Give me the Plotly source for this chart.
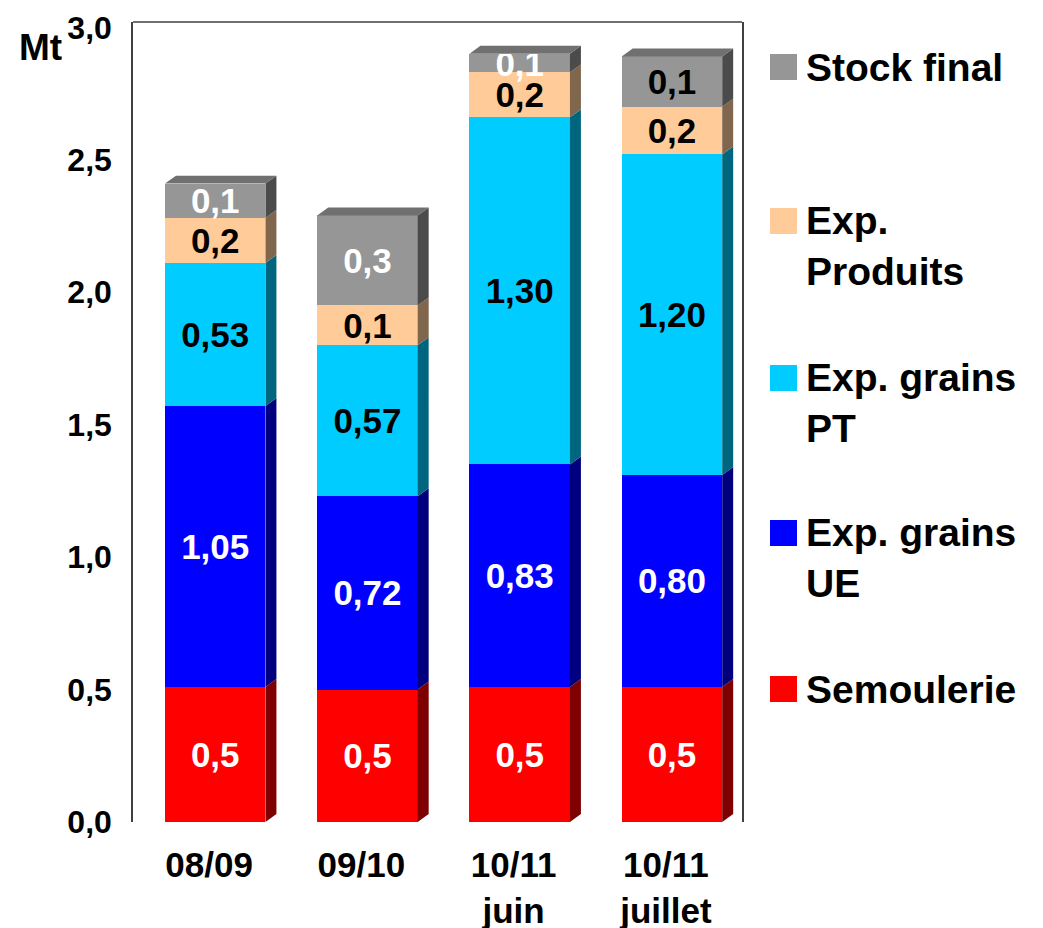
import plotly.graph_objects as go

# ---------------- data ----------------
categories = ["08/09", "09/10", "10/11<br>juin", "10/11<br>juillet"]
series_names = ["Semoulerie", "Exp. grains UE", "Exp. grains PT", "Exp. Produits", "Stock final"]
legend_labels = ["Semoulerie", "Exp. grains<br>UE", "Exp. grains<br>PT", "Exp.<br>Produits", "Stock final"]

semoulerie = [0.51, 0.50, 0.51, 0.51]
exp_grains_ue = [1.06, 0.73, 0.84, 0.80]
exp_grains_pt = [0.54, 0.57, 1.31, 1.21]
exp_produits = [0.17, 0.15, 0.17, 0.18]
stock_final = [0.13, 0.34, 0.07, 0.19]

lab_semoulerie = ["0,5", "0,5", "0,5", "0,5"]
lab_ue = ["1,05", "0,72", "0,83", "0,80"]
lab_pt = ["0,53", "0,57", "1,30", "1,20"]
lab_produits = ["0,2", "0,1", "0,2", "0,2"]
lab_stock = ["0,1", "0,3", "0,1", "0,1"]

y_ticks = [0, 0.5, 1.0, 1.5, 2.0, 2.5, 3.0]

# ---------------- style ----------------
front_colors = ["#FF0000", "#0000FF", "#00CCFF", "#FFCC99", "#969696"]
side_colors = ["#7F0000", "#00007F", "#00667F", "#7F664C", "#4B4B4B"]
top_color = "#707070"
text_colors = [
    ["white"] * 4,
    ["white"] * 4,
    ["black"] * 4,
    ["black"] * 4,
    ["white", "white", "white", "black"],
]
FONT = "Arial, Liberation Sans, sans-serif"

values = [semoulerie, exp_grains_ue, exp_grains_pt, exp_produits, stock_final]
labels = [lab_semoulerie, lab_ue, lab_pt, lab_produits, lab_stock]

xpos = list(range(len(categories)))
BAR_W = 0.66
BAR_OFF = -0.29          # bar drawn from x+BAR_OFF to x+BAR_OFF+BAR_W
DX = 0.072               # depth of the 3D effect (x units)
DY = 0.030               # depth of the 3D effect (y units)

fig = go.Figure()

# front faces
for i, (name, vals) in enumerate(zip(series_names, values)):
    fig.add_trace(go.Bar(
        x=xpos, y=vals, name=name,
        width=BAR_W, offset=BAR_OFF,
        marker=dict(color=front_colors[i], line=dict(width=0)),
        text=labels[i], textposition="inside", insidetextanchor="middle",
        textangle=0,
        textfont=dict(family=FONT, size=35, color=text_colors[i], weight="bold"),
        showlegend=False, hoverinfo="skip",
    ))

# side faces (3D effect) computed from the stacked values
base = [0.0] * len(xpos)
for i, vals in enumerate(values):
    sx, sy = [], []
    for j, x in enumerate(xpos):
        xr = x + BAR_OFF + BAR_W
        b = base[j]
        t = base[j] + vals[j]
        sx += [xr, xr + DX, xr + DX, xr, xr, None]
        sy += [b, b + DY, t + DY, t, b, None]
    fig.add_trace(go.Scatter(
        x=sx, y=sy, mode="lines", fill="toself",
        fillcolor=side_colors[i], line=dict(width=0, color=side_colors[i]),
        showlegend=False, hoverinfo="skip",
    ))
    base = [base[j] + vals[j] for j in range(len(xpos))]

# top faces
tx, ty = [], []
for j, x in enumerate(xpos):
    xl = x + BAR_OFF
    xr = xl + BAR_W
    T = base[j]
    tx += [xl, xl + DX, xr + DX, xr, xl, None]
    ty += [T, T + DY, T + DY, T, T, None]
fig.add_trace(go.Scatter(
    x=tx, y=ty, mode="lines", fill="toself",
    fillcolor=top_color, line=dict(width=0, color=top_color),
    showlegend=False, hoverinfo="skip",
))

# ---------------- layout ----------------
# the page body adds an 8px offset; plot area on screen: x 133..742, y 22..822
OFF = 8
SL, ST, SR, SB = 133, 22, 742, 822
W, H = 1043, 928
pw, ph = SR - SL, SB - ST
L, T_ = SL - OFF, ST - OFF
R = W - L - pw
B = H - T_ - ph


def px_x(px):
    return (px - SL) / pw


def px_y(py):
    return (SB - py) / ph


fig.update_layout(
    width=W, height=H,
    margin=dict(l=L, r=R, t=T_, b=B, autoexpand=False),
    paper_bgcolor="white", plot_bgcolor="white",
    barmode="stack",
    showlegend=False,
    separators=", ",
    uniformtext=dict(minsize=35, mode="show"),
    font=dict(family=FONT, color="black"),
    xaxis=dict(
        range=[-0.5, 3.5], tickvals=xpos, ticktext=categories,
        showgrid=False, zeroline=False, showline=False, ticks="",
        tickfont=dict(family=FONT, size=35, color="black", weight="bold"),
        ticklabelstandoff=19, automargin=False,
    ),
    yaxis=dict(
        range=[0, 3.02], tickvals=y_ticks, tickformat=".1f",
        showgrid=False, zeroline=False,
        showline=True, mirror=True, linecolor="#404040", linewidth=1.5,
        ticks="",
        tickfont=dict(family=FONT, size=32, color="black", weight="bold"),
        ticklabelstandoff=13, automargin=False,
    ),
)

shapes = [dict(type="line", xref="paper", yref="paper", x0=0, x1=1, y0=1, y1=1,
               line=dict(color="#404040", width=1.5))]
annotations = [dict(text="<b>Mt</b>", xref="paper", yref="paper",
                    x=px_x(17), y=px_y(47), xanchor="left", yanchor="middle",
                    showarrow=False, font=dict(family=FONT, size=37, color="black"))]

# manual legend (top to bottom: Stock final ... Semoulerie)
legend_centers = [689, 533, 378, 221, 67]
LFS = 39
LINE_H = LFS * 1.3
for i in range(len(series_names)):
    cy = legend_centers[i]
    shapes.append(dict(type="rect", xref="paper", yref="paper",
                       x0=px_x(770), x1=px_x(797), y0=px_y(cy + 13), y1=px_y(cy - 13),
                       fillcolor=front_colors[i], line=dict(width=0)))
    nlines = legend_labels[i].count("<br>") + 1
    center = cy + (nlines - 1) * LINE_H / 2
    annotations.append(dict(text="<b>" + legend_labels[i].replace("<br>", "</b><br><b>") + "</b>",
                            xref="paper", yref="paper",
                            x=px_x(804), y=px_y(center), xanchor="left", yanchor="middle",
                            align="left", showarrow=False,
                            font=dict(family=FONT, size=LFS, color="black")))

fig.update_layout(shapes=shapes, annotations=annotations)

fig.write_html("out.html")
